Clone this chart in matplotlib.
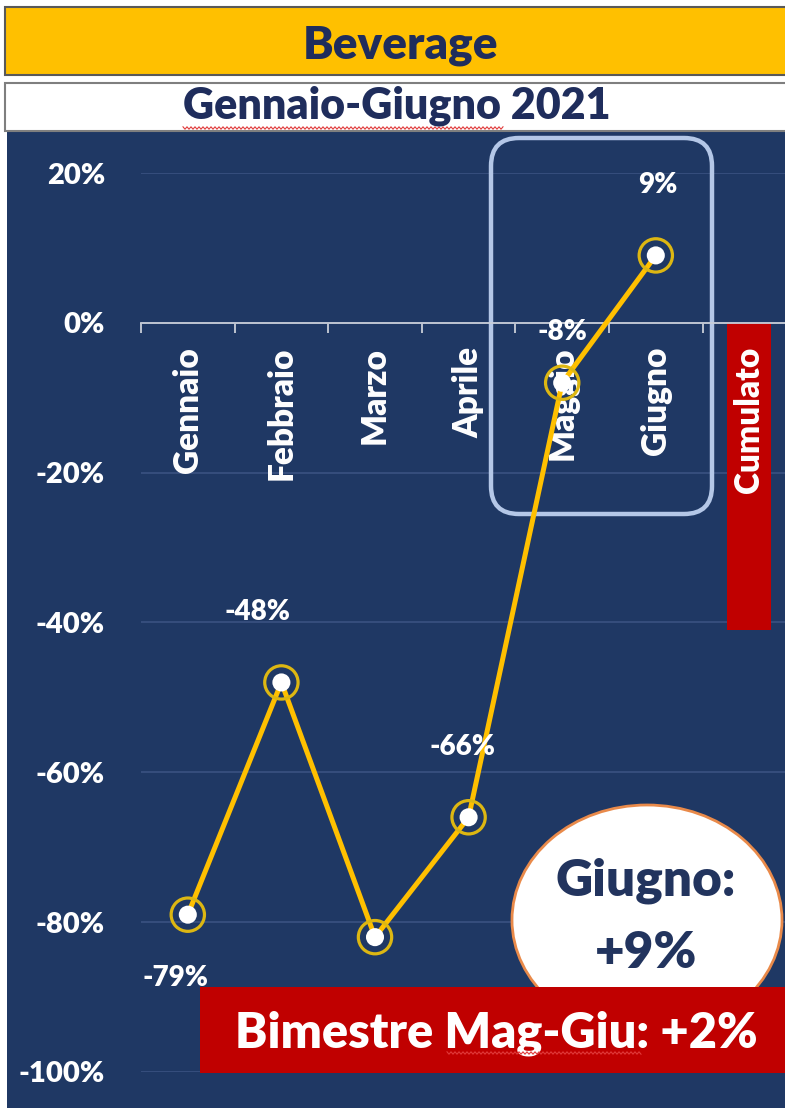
import numpy as np
import matplotlib.pyplot as plt
from matplotlib.patches import Rectangle, FancyBboxPatch, Ellipse
from matplotlib.transforms import Affine2D

plt.rcParams['font.family'] = ['Lato', 'DejaVu Sans']
plt.rcParams['font.weight'] = 'heavy'

# data
categories = ['Gennaio', 'Febbraio', 'Marzo', 'Aprile', 'Maggio', 'Giugno', 'Cumulato']
monthly = [-79, -48, -82, -66, -8, 9]
month_labels = ['-79%', '-48%', None, '-66%', '-8%', '9%']
label_offsets = [(-12, -63), (-24, 70), None, (-6, 70), (0, 51), (2, 70)]
cumulato = -41
y_ticks = [20, 0, -20, -40, -60, -80, -100]

NAVY = '#1F3864'
TEXT_NAVY = '#1F2D5C'
GOLD = '#FFC000'
RED = '#C00000'

W, H = 785, 1108
fig = plt.figure(figsize=(W / 100, H / 100), dpi=100)
fig.patch.set_facecolor('white')
# pixel coordinates, origin at top-left
px = Affine2D().scale(1, -1).translate(0, H).scale(1 / W, 1 / H) + fig.transFigure

# backgrounds and header
fig.add_artist(Rectangle((7, 131), 820, 1000, transform=px, facecolor=NAVY,
                         edgecolor='none', zorder=-5))
fig.add_artist(Rectangle((5, 7), 820, 68, transform=px, facecolor=GOLD,
                         edgecolor='#595959', lw=1.5, zorder=-4))
fig.add_artist(Rectangle((5, 83), 820, 48, transform=px, facecolor='white',
                         edgecolor='#7F7F7F', lw=1.5, zorder=-4))
fig.text(401, 58, 'Beverage', transform=px, ha='center', va='baseline',
         fontsize=33, color=TEXT_NAVY)
fig.text(397, 118, 'Gennaio-Giugno 2021', transform=px, ha='center',
         va='baseline', fontsize=31, color=TEXT_NAVY)


def squiggle(x0, x1, y, **kw):
    xs = np.arange(x0, x1, 2.0)
    ys = y + 1.2 * np.where(np.arange(len(xs)) % 2 == 0, -1, 1)
    return plt.Line2D(xs, ys, transform=px, color='#E03A3A', lw=0.8, **kw)


fig.add_artist(squiggle(183, 505, 128, zorder=-3))

# chart area
ax = fig.add_axes([141 / W, (H - 1072) / H, 7 * 93.6 / W, (1072 - 173) / H])
ax.patch.set_visible(False)
ax.set_xlim(-0.5, 6.5)
ax.set_ylim(-100, 20)

ax.set_yticks(y_ticks)
ax.set_yticklabels([f'{v}%' for v in y_ticks])
ax.yaxis.grid(True, color='#3A5282', lw=1.2)
ax.set_axisbelow(True)
ax.tick_params(axis='y', length=0, pad=26, labelsize=21, labelcolor='white')

for s in ['top', 'right', 'left']:
    ax.spines[s].set_visible(False)
ax.spines['bottom'].set_position(('data', 0))
ax.spines['bottom'].set_color('#C9CED8')
ax.spines['bottom'].set_linewidth(1.3)
ax.set_xticks(np.arange(-0.5, 7, 1.0))
ax.set_xticklabels([])
ax.tick_params(axis='x', direction='out', length=7, width=1.3, color='#C9CED8')

x = np.arange(len(monthly))

# cumulative bar
ax.bar(6, cumulato, width=0.47, color=RED, zorder=1)

# category names under the zero line
for i, name in enumerate(categories):
    ax.text(i, -3.2, name, rotation=90, ha='center', va='top', color='white',
            fontsize=24, zorder=2)

# highlight around Maggio-Giugno
hl = FancyBboxPatch((491, 138), 221, 376, boxstyle='round,pad=0,rounding_size=28',
                    transform=px, fill=False, edgecolor='#B4C7E7', lw=3.2, zorder=2.5)
ax.add_patch(hl)
hl.set_clip_on(False)

# monthly line
ax.plot(x, monthly, color=GOLD, lw=3.6, zorder=3, solid_capstyle='round')
ax.scatter(x, monthly, s=24 ** 2, facecolors='none', edgecolors='#DDB712',
           linewidths=2.3, zorder=4)
ax.scatter(x, monthly, s=13 ** 2, color='white', edgecolors='none', zorder=5)

for i, (v, lab, off) in enumerate(zip(monthly, month_labels, label_offsets)):
    if lab is None:
        continue
    ax.annotate(lab, (i, v), xytext=off, textcoords='offset pixels',
                ha='center', va='center', color='white', fontsize=20, zorder=5)

# callouts
ell = Ellipse((647, 920), 270, 230, transform=px, facecolor='white',
              edgecolor='#E98A4A', lw=2, zorder=6)
ax.add_patch(ell)
ell.set_clip_on(False)
ax.text(646, 895, 'Giugno:', transform=px, ha='center', va='baseline',
        fontsize=37, color='#22345E', zorder=7)
ax.text(646, 968, '+9%', transform=px, ha='center', va='baseline',
        fontsize=37, color='#22345E', zorder=7)

box = Rectangle((200, 987), 640, 86, transform=px, facecolor=RED,
                edgecolor='none', zorder=8)
ax.add_patch(box)
box.set_clip_on(False)
ax.text(496, 1048, 'Bimestre Mag-Giu: +2%', transform=px, ha='center',
        va='baseline', fontsize=35, color='white', zorder=9)
sq = squiggle(447, 643, 1053, zorder=9.5)
ax.add_artist(sq)

fig.savefig('out.png', dpi=100)
